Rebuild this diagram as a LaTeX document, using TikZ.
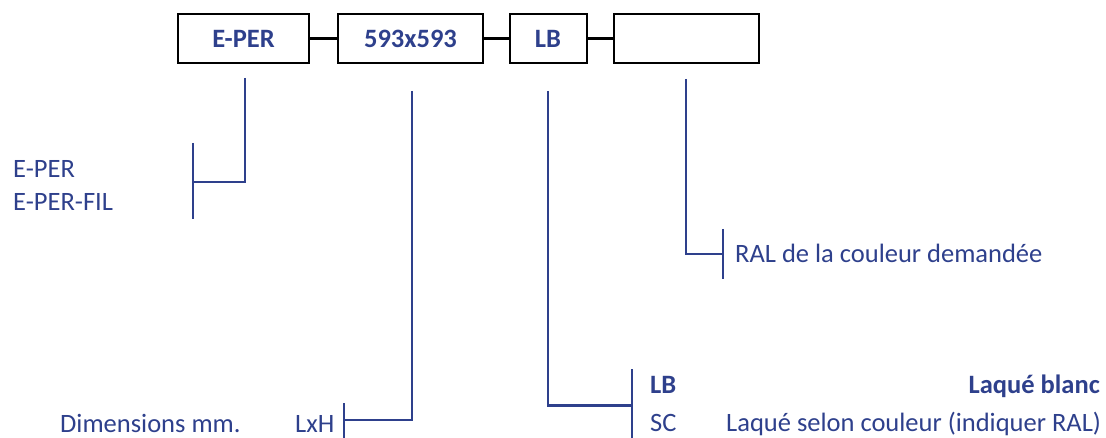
\documentclass[tikz,border=0pt]{standalone}
\usepackage{fontspec}
\setmainfont{Carlito}
\definecolor{txtblue}{RGB}{46,64,140}
\begin{document}
\begin{tikzpicture}[x=1pt,y=-1pt,
  box/.style={draw=black,line width=2pt,minimum height=49pt,inner sep=0pt,font=\fontsize{26.5}{30}\selectfont\bfseries,text=txtblue},
  link/.style={draw=black,line width=3pt},
  lead/.style={draw=txtblue,line width=2.7pt},
  lbl/.style={anchor=base west,inner sep=0pt,text=txtblue,font=\fontsize{26.5}{30}\selectfont},
  lble/.style={anchor=base east,inner sep=0pt,text=txtblue,font=\fontsize{26.5}{30}\selectfont}]
\useasboundingbox (0,0) rectangle (1106,438);
% boxes
\node[box,minimum width=131pt] (b1) at (243.5,38.5) {E-PER};
\node[box,minimum width=145pt] (b2) at (410.5,38.5) {593x593};
\node[box,minimum width=77pt] (b3) at (548,38.5) {LB};
\node[box,minimum width=145pt] (b4) at (686.5,38.5) {};
\draw[link] (b1.east) -- (b2.west);
\draw[link] (b2.east) -- (b3.west);
\draw[link] (b3.east) -- (b4.west);
% leader coordinates
\coordinate (t1) at (245,78);
\coordinate (k1) at (193,182);
\coordinate (u1) at (193,143);
\coordinate (d1) at (193,219);
\coordinate (t2) at (412,91);
\coordinate (k2) at (344,420);
\coordinate (u2) at (344,403);
\coordinate (d2) at (344,440);
\coordinate (t3) at (548,91);
\coordinate (k3) at (632,405.5);
\coordinate (u3) at (632,369);
\coordinate (d3) at (632,440);
\coordinate (t4) at (686,79);
\coordinate (k4) at (723,254);
\coordinate (u4) at (723,229);
\coordinate (d4) at (723,279);
\draw[lead] (t1) |- (k1);
\draw[lead] (u1) -- (d1);
\draw[lead] (t2) |- (k2);
\draw[lead] (u2) -- (d2);
\draw[lead] (t3) |- (k3);
\draw[lead] (u3) -- (d3);
\draw[lead] (t4) |- (k4);
\draw[lead] (u4) -- (d4);
% labels
\node[lbl] (l1) at (13,178) {E-PER};
\node[lbl] (l2) at (13,211) {E-PER-FIL};
\node[lbl] (l3) at (60,432.5) {Dimensions mm.};
\node[lbl] (l4) at (295,432.5) {LxH};
\node[lbl,font=\fontsize{26.5}{30}\selectfont\bfseries] (l5) at (650,393) {LB};
\node[lbl] (l6) at (650,431) {SC};
\node[lble,font=\fontsize{26.5}{30}\selectfont\bfseries] (l7) at (1100,393) {Laqué blanc};
\node[lbl] (l8) at (726,431) {Laqué selon couleur (indiquer RAL)};
\node[lbl] (l9) at (735,263) {RAL de la couleur demandée};
\end{tikzpicture}
\end{document}
